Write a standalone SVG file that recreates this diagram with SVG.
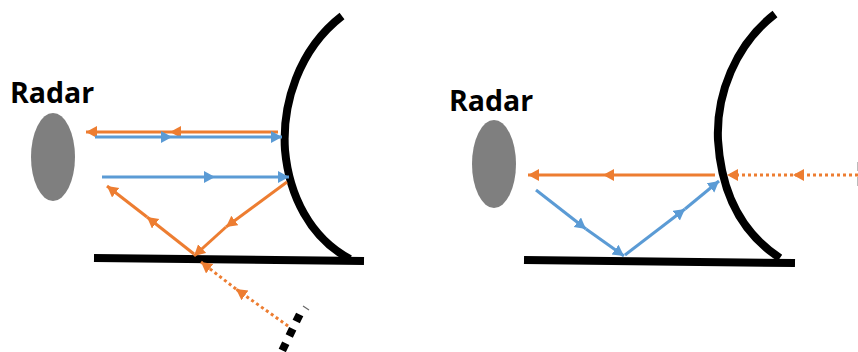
<svg xmlns="http://www.w3.org/2000/svg" width="858" height="352" viewBox="0 0 858 352">
<defs>
<marker id="ao" markerUnits="userSpaceOnUse" markerWidth="13" markerHeight="13" refX="11" refY="6" orient="auto"><path d="M0 0L11 6L0 12Z" fill="#ed7d31"/></marker>
<marker id="ab" markerUnits="userSpaceOnUse" markerWidth="13" markerHeight="13" refX="11" refY="6" orient="auto"><path d="M0 0L11 6L0 12Z" fill="#5b9bd5"/></marker>
</defs>
<style>
.ant{fill:#7f7f7f}
.lbl{font-family:"Open Sans","Liberation Sans",sans-serif;font-weight:700;font-size:28.5px;fill:#000}
.wall{fill:none;stroke:#000;stroke-width:8}
.gnd{fill:none;stroke:#000;stroke-width:8}
.o{fill:none;stroke:#ed7d31;stroke-width:3;marker-end:url(#ao)}
.b{fill:none;stroke:#5b9bd5;stroke-width:3;marker-end:url(#ab)}
.d{stroke-dasharray:3 3}
</style>
<g id="radar-left"><ellipse class="ant" cx="53" cy="157" rx="22" ry="44"/><text class="lbl" x="10" y="103">Radar</text></g>
<g id="radar-right"><ellipse class="ant" cx="494" cy="164" rx="22" ry="44"/><text class="lbl" x="449" y="111">Radar</text></g>
<g id="mirror-left"><path class="wall" d="M342 16C298 50 282 105 285 150C289 195 310 238 350 259"/></g>
<g id="ground-left"><path class="gnd" d="M94 258L364 261"/></g>
<g id="mirror-right"><path class="wall" d="M775 14C735 45 716 95 718 140C721 190 740 232 780 258"/></g>
<g id="ground-right"><path class="gnd" d="M524 260L795 263"/></g>
<g id="obstacle"><path d="M299.7 314.4L282 351" fill="none" stroke="#000" stroke-width="8" stroke-dasharray="8 8"/><path d="M303 306L309 310" stroke="#666" stroke-width="1.2" fill="none"/></g>
<g id="connectors">
<path class="o" d="M278 132L170 132"/><path class="o" d="M170 132L86 132"/>
<path class="b" d="M95 137L172 137"/><path class="b" d="M172 137L282 137"/>
<path class="b" d="M102 177L215 177"/><path class="b" d="M215 177L289 177"/>
<path class="o" d="M287 182L226 227"/><path class="o" d="M226 227L194 256"/>
<path class="o" d="M194 254L147 217"/><path class="o" d="M147 217L107 186"/>
<path class="o d" d="M288 326L236 289"/><path class="o d" d="M236 289L201 262"/>
<path class="o" d="M715 175L603 175"/><path class="o" d="M603 175L528 175"/>
<path class="b" d="M536 190L586 229"/><path class="b" d="M586 229L624 256"/>
<path class="b" d="M625 255L685 209"/><path class="b" d="M685 209L719 181"/>
<path class="o d" d="M858 175L793 175"/><path class="o d" d="M793 175L727 175"/>
</g>
<path d="M857.5 162V171M857.5 177V186" stroke="#bbb" stroke-width="1" fill="none"/>
</svg>
